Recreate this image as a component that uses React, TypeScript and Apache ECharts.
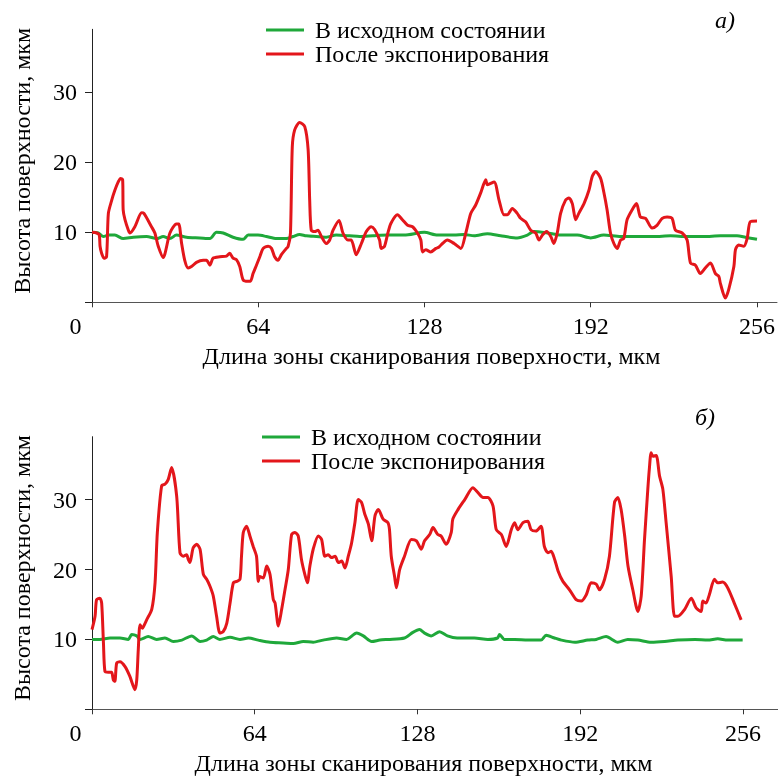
import { useEffect, useRef } from 'react';
import * as echarts from 'echarts';

const seriesNames = ['В исходном состоянии', 'После экспонирования'];
const xTicks = [0, 64, 128, 192, 256];
const yLabelTicks = [10, 20, 30];
const yTickMarks = [0, 10, 20, 30];
const panelLabels = ['а)', 'б)'];
const xTitle = 'Длина зоны сканирования поверхности, мкм';
const yTitle = 'Высота поверхности, мкм';

const greenA: number[][] = [[0,10],[2.4,9.9],[4.4,9.4],[6.3,9.6],[8.8,9.6],[12,9.1],[15.9,9.3],[21,9.4],[24.9,9.1],[27.4,9.4],[30,9.1],[32.5,9.6],[36.4,9.3],[41.5,9.2],[45.4,9.1],[47.9,10.0],[50.5,9.9],[54.3,9.3],[58.2,9.0],[60.1,9.6],[63.9,9.6],[67.1,9.4],[71,9.1],[74.8,9.1],[77.4,9.4],[79.9,9.7],[82.5,9.5],[86.4,9.4],[90.2,9.3],[94,9.6],[99.2,9.5],[103,9.4],[108.1,9.5],[113.8,9.6],[120.2,9.6],[127.9,10.0],[133,9.6],[139.4,9.6],[143.3,9.7],[147.1,9.5],[152.2,9.8],[157.3,9.5],[163.7,9.2],[167.6,9.6],[170.1,10.1],[175.3,9.9],[180.4,9.6],[186.8,9.6],[192,9.2],[197,9.6],[203.5,9.4],[209.9,9.4],[216.3,9.4],[222.7,9.5],[229.1,9.4],[235.5,9.4],[241.9,9.5],[248.3,9.5],[251.5,9.3],[256,9.0]];

const redA: number[][] = [[0,10],[1.8,9.9],[2.8,9.6],[3.1,8.0],[3.7,7.0],[4.6,6.3],[5.6,6.5],[6.3,12.7],[7.6,14.6],[8.8,16.0],[10.1,17.2],[11,17.7],[11.8,17.5],[12,13.2],[12.7,11.8],[14,10.3],[14.6,9.9],[16.5,10.8],[19.1,12.8],[20,12.7],[22.9,10.8],[24.2,9.9],[25.5,8.0],[27.4,6.4],[30,9.9],[32.5,11.2],[33.4,11.2],[34.5,8.4],[35.7,6.0],[37,4.9],[38.3,5.1],[40.2,5.7],[42.8,6.0],[44.1,6.0],[45.4,5.3],[46.6,6.3],[49.2,6.5],[51.8,6.6],[53,7.0],[54.3,6.3],[55.6,6.1],[56.9,5.1],[58.2,3.2],[60.1,3.0],[61,3.0],[62,4.1],[63.3,5.3],[64.6,6.5],[65.9,7.7],[67.8,8.0],[69.1,7.7],[70.3,6.5],[71.6,6.0],[72.9,6.8],[74.6,7.6],[75.5,8.0],[76.4,9.9],[77.1,22.2],[78,24.6],[79.9,25.7],[81.9,25.1],[83.2,21.8],[83.8,14.6],[84.4,10.3],[85.7,10.1],[87,10.3],[88.3,9.4],[90.2,8.4],[91.5,8.9],[92.8,10.3],[95.1,11.7],[96.6,9.9],[98.5,8.9],[99.8,8.9],[101.7,6.8],[103.7,8.4],[105.6,10.1],[107.5,10.8],[108.8,10.4],[110.7,8.9],[111.3,7.7],[112.6,8.0],[113.9,9.9],[115.1,11.3],[117.6,12.5],[119.5,11.8],[121.5,11.0],[123.4,10.8],[125.3,9.9],[126.6,8.9],[127.2,7.2],[128.5,7.5],[130.4,7.2],[132.4,7.7],[133.6,7.9],[134.9,8.4],[136.8,8.9],[139.4,8.4],[142,7.7],[143.9,9.9],[145.8,12.7],[147.7,13.9],[149.6,15.6],[151.6,17.5],[152.2,16.8],[154.8,17.2],[156.7,14.6],[158.6,12.5],[159.9,12.5],[161.8,13.4],[163.7,12.7],[165,12.0],[166.9,11.5],[168.9,10.3],[170.8,9.9],[172.1,8.9],[173.4,9.6],[175,10.1],[176.6,9.4],[177.8,8.4],[179.1,9.9],[180.4,12.7],[182.3,14.6],[183.6,14.9],[184.9,14.1],[186.2,11.8],[187.4,12.7],[189.4,14.1],[191.3,16.0],[192.6,18.0],[193.9,18.7],[195.8,17.7],[197,15.8],[198.3,13.2],[199.6,9.9],[200.9,8.4],[202.2,7.7],[203.5,8.9],[204.7,9.1],[206,11.8],[207.9,13.2],[209.6,14.1],[211.1,12.2],[213.1,12.0],[215.6,10.6],[217.5,11.0],[219.5,12.0],[221.4,12.2],[223.3,12.0],[224.6,10.3],[227.2,9.9],[229.1,8.9],[230.4,5.6],[232.3,5.3],[234.2,4.1],[236.1,4.9],[238.1,5.6],[240,4.1],[241.3,3.7],[241.9,2.7],[243.8,0.6],[245.1,1.8],[247.1,5.1],[247.7,7.5],[248.9,8.2],[250.9,8.0],[252.2,9.1],[253.4,11.5],[256,11.6]];

const greenB: number[][] = [[0,10.0],[3.1,10.0],[7.1,10.2],[11,10.2],[14.3,10.0],[15.6,10.7],[17.6,10.5],[18.9,10.0],[22.1,10.4],[25.4,10.0],[28.7,10.2],[32,9.7],[35.3,9.9],[39.2,10.5],[42.5,9.7],[45.1,9.9],[47.7,10.4],[50.3,10.0],[54.3,10.3],[58.2,10.0],[61.5,10.2],[65.4,9.9],[70,9.6],[75.2,9.5],[79.2,9.4],[83.1,9.7],[87,9.6],[90.9,9.9],[96.2,10.2],[100.1,10.0],[104.1,10.9],[106.7,10.5],[110,9.7],[113.2,9.9],[116.4,10.0],[122.9,10.2],[126.2,11.0],[128.8,11.4],[130.8,10.9],[133.4,10.5],[136.7,11.1],[139.8,10.5],[143.6,10.2],[150.4,10.2],[155.7,10.0],[159.5,10.2],[160.3,10.7],[162.2,10.0],[166.2,10.0],[171.4,9.9],[176.6,9.9],[178.6,10.6],[181.9,10.2],[184.6,9.9],[189.9,9.6],[195,9.9],[198.3,10.0],[202.2,10.4],[206.8,9.6],[210.7,10.0],[214.7,9.9],[219.9,9.6],[225.2,9.7],[230.4,9.9],[237.1,10.0],[242.2,9.9],[246.1,10.1],[250,9.9],[255.9,9.9]];

const redB: number[][] = [[0,11.4],[1.2,13.3],[1.8,15.7],[3.1,15.9],[3.8,15.2],[4.5,9.5],[5.1,5.4],[6.4,5.3],[7.7,5.3],[8.4,4.2],[9,4.0],[9.7,6.6],[11,6.8],[13,6.1],[14.9,4.7],[16.9,2.8],[17.6,4.2],[18.2,8.5],[18.9,12.1],[19.8,11.6],[20.2,11.8],[21.5,12.8],[23.5,14.3],[24.8,18.1],[25.7,25.3],[27.4,32.0],[28.7,32.2],[30,32.9],[31.3,34.6],[33.3,30.5],[34.6,22.4],[35.9,21.9],[37.2,22.1],[37.9,21.4],[38.5,21.0],[39.8,23.1],[41.2,23.6],[42.5,22.9],[43.8,19.3],[45.1,18.6],[46.4,17.6],[47.7,16.2],[49,13.3],[50.3,10.9],[51.6,11.1],[53,12.3],[54.3,15.2],[55.6,18.1],[56.9,18.3],[58.2,18.6],[58.8,21.9],[59.5,25.3],[60.8,26.2],[62.1,24.8],[63.4,23.3],[64.7,21.9],[65.4,18.3],[66,19.0],[67.4,18.8],[68.7,20.5],[70,19.3],[71.3,15.7],[72,15.2],[73.3,11.9],[74.6,14.3],[75.9,17.1],[77.2,20.0],[78.5,25.0],[79.8,25.3],[81.1,24.8],[82.4,21.4],[83.7,19.3],[84.7,18.1],[85.7,20.5],[87,22.9],[89,24.8],[90.3,24.3],[91.6,21.9],[92.9,22.1],[94.2,21.7],[95.6,21.9],[96.9,21.0],[98.2,21.2],[99.5,20.2],[100.8,21.9],[102.1,23.8],[103.4,26.7],[104.7,30.0],[106,29.6],[107.3,27.9],[108.7,26.5],[110,24.1],[111.3,27.7],[112.6,28.6],[114.5,27.2],[116.4,26.7],[117,25.7],[117.7,21.9],[119,19.0],[119.7,17.4],[121,20.0],[122.9,21.9],[125.6,24.3],[127.6,24.1],[129.5,22.9],[130.8,24.1],[132.8,25.0],[134.1,26.0],[136,25.0],[137.3,24.8],[139.3,23.6],[141.3,25.3],[141.9,27.2],[144,28.6],[146.6,30.0],[149.8,31.7],[151.8,31.0],[153.8,30.3],[155.7,30.3],[157.7,29.1],[159,25.7],[161,25.0],[162.9,23.3],[164.9,25.7],[166.2,26.7],[167.5,25.7],[169.5,26.7],[171.4,26.9],[172.7,25.7],[174.6,25.5],[176.6,26.2],[177.9,23.3],[179.3,22.4],[180.6,22.6],[182,21.4],[183.3,19.8],[185.2,18.3],[187.8,17.1],[190.4,15.7],[192.4,15.5],[194.4,16.4],[196.3,18.1],[198.3,17.9],[199.6,17.1],[201.6,18.6],[203.5,21.9],[205.5,29.6],[206.8,30.3],[208.1,28.6],[209.5,24.8],[210.8,20.5],[212.7,17.1],[214.7,14.0],[216,16.2],[217.3,24.3],[218.6,31.5],[219.2,34.4],[219.9,36.7],[220.6,36.2],[221.9,36.3],[223.2,33.4],[224.5,31.5],[225.8,26.7],[227.8,19.0],[229.1,13.3],[230.4,13.3],[233.1,14.3],[235.7,15.9],[237.6,14.5],[239.6,14.0],[240.2,15.5],[241.5,15.2],[242.8,16.4],[244.8,18.6],[246.1,18.1],[248,18.2],[250,17.4],[252.6,15.2],[255.3,12.8]];

const FONT = '"Liberation Serif", "Times New Roman", serif';
const GREEN = '#1fa83a';
const RED = '#e3161b';

export default function App() {
  const ref = useRef<HTMLDivElement>(null);
  useEffect(() => {
    if (!ref.current) return;
    const chart = echarts.init(ref.current, undefined, { renderer: 'svg' });
    const panels = [
      { top: 29.3, height: 273, xMax: 263.7, green: greenA, red: redA, legendLeft: 266, legendTop: 18, namePad: [0, 6, 0, 0] },
      { top: 436.7, height: 272.6, xMax: 269.8, green: greenB, red: redB, legendLeft: 262, legendTop: 425, namePad: [0, 23, 0, 0] },
    ];
    const option: any = {
      animation: false,
      grid: panels.map((p) => ({ left: 92, top: p.top, width: 686, height: p.height })),
      xAxis: panels.map((p, i) => ({
        type: 'value',
        gridIndex: i,
        min: 0,
        max: p.xMax,
        splitLine: { show: false },
        axisLine: { show: true, lineStyle: { color: '#555', width: 1 } },
        axisTick: { show: true, customValues: xTicks, length: 5, lineStyle: { color: '#333' } },
        axisLabel: {
          customValues: xTicks,
          margin: 12,
          fontSize: 24,
          fontFamily: FONT,
          color: '#000',
          formatter: (v: number) => (v === 0 ? '{z|0}' : String(v)),
          rich: { z: { padding: [0, 33, 0, 0], fontSize: 24, fontFamily: FONT, color: '#000' } },
        },
        name: xTitle,
        nameLocation: 'middle',
        nameGap: 42,
        nameTextStyle: { fontSize: 24, fontFamily: FONT, color: '#000', padding: p.namePad },
      })),
      yAxis: panels.map((p, i) => ({
        type: 'value',
        gridIndex: i,
        min: 0,
        max: 39,
        splitLine: { show: false },
        axisLine: { show: true, lineStyle: { color: '#222', width: 1 } },
        axisTick: { show: true, customValues: yTickMarks, length: 7, lineStyle: { color: '#222' } },
        axisLabel: { customValues: yLabelTicks, margin: 15, fontSize: 24, fontFamily: FONT, color: '#000' },
        name: yTitle,
        nameLocation: 'middle',
        nameGap: 58,
        nameTextStyle: { fontSize: 24, fontFamily: FONT, color: '#000', padding: [0, 0, 0, 10] },
      })),
      legend: panels.map((p) => ({
        left: p.legendLeft,
        top: p.legendTop,
        padding: 0,
        orient: 'vertical',
        itemWidth: 38,
        itemHeight: 3,
        itemGap: 0,
        icon: 'rect',
        data: seriesNames,
        selectedMode: false,
        textStyle: { fontSize: 24, fontFamily: FONT, color: '#000', lineHeight: 24, padding: [0, 0, 0, 6] },
      })),
      graphic: [
        { type: 'text', x: 725, y: 20, style: { text: panelLabels[0], fontSize: 24, fontStyle: 'italic', fontFamily: FONT, fill: '#000', align: 'center', verticalAlign: 'middle' } },
        { type: 'text', x: 705, y: 417, style: { text: panelLabels[1], fontSize: 24, fontStyle: 'italic', fontFamily: FONT, fill: '#000', align: 'center', verticalAlign: 'middle' } },
      ],
      series: panels.flatMap((p, i) => [
        {
          type: 'line', name: seriesNames[0], xAxisIndex: i, yAxisIndex: i, data: p.green,
          symbol: 'none', showSymbol: false, smooth: 0.25,
          lineStyle: { color: GREEN, width: 3 }, itemStyle: { color: GREEN },
        },
        {
          type: 'line', name: seriesNames[1], xAxisIndex: i, yAxisIndex: i, data: p.red,
          symbol: 'none', showSymbol: false, smooth: 0.25,
          lineStyle: { color: RED, width: 3 }, itemStyle: { color: RED },
        },
      ]),
    };
    chart.setOption(option);
    return () => chart.dispose();
  }, []);
  return <div ref={ref} style={{ position: 'fixed', left: 0, top: 0, width: 778, height: 780 }} />;
}
